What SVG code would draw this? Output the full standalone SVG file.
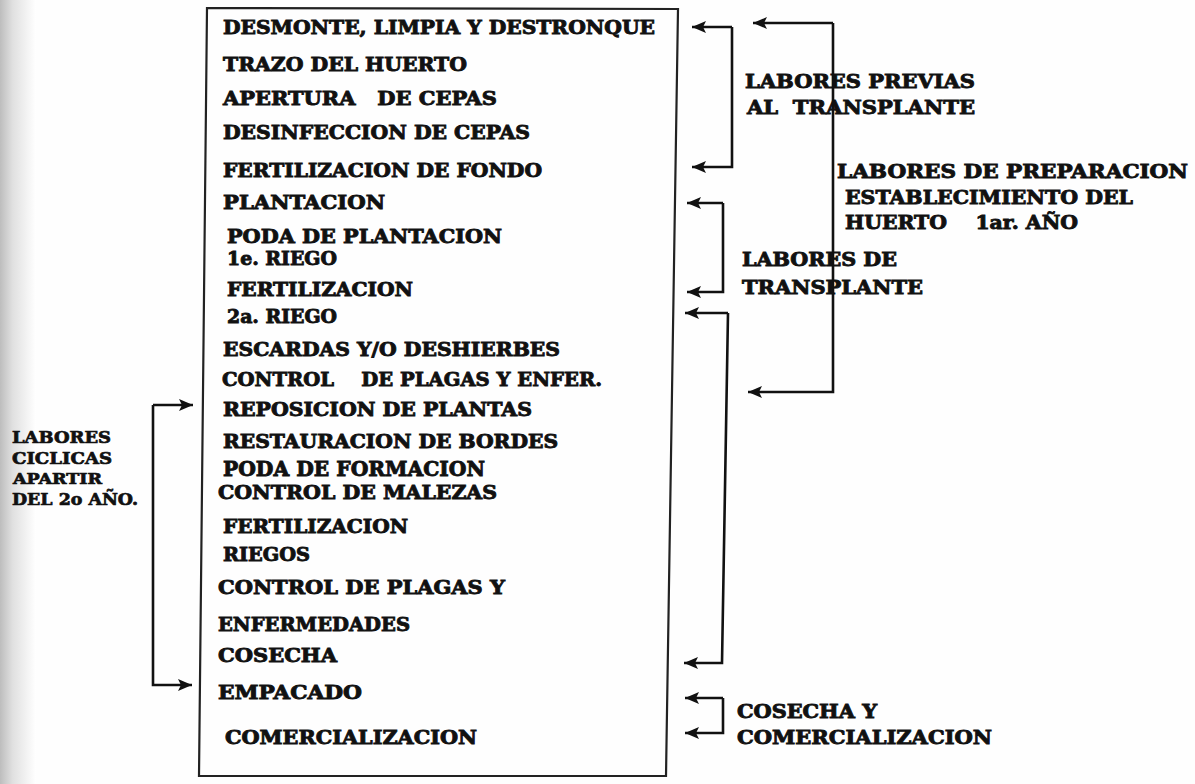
<svg xmlns="http://www.w3.org/2000/svg" width="1195" height="784" viewBox="0 0 1195 784">
<defs>
<linearGradient id="shade" x1="0" y1="0" x2="1" y2="0">
<stop offset="0" stop-color="#bdbdbd"/>
<stop offset="0.35" stop-color="#e0e0e0"/>
<stop offset="1" stop-color="#ffffff"/>
</linearGradient>
<marker id="ah" viewBox="0 0 14 12" refX="14" refY="6" markerWidth="15" markerHeight="12" markerUnits="userSpaceOnUse" orient="auto">
<path d="M0,0 L14,6 L0,12 L3,6 Z" fill="#111"/>
</marker>
<style>
.t{font-family:"DejaVu Serif","Liberation Serif",serif;font-weight:bold;font-size:19px;fill:#111;stroke:#111;stroke-width:0.9;white-space:pre}
.s{font-size:16px;stroke-width:0.7}
.c{fill:none;stroke:#111;stroke-width:2.6}
.box{fill:none;stroke:#222;stroke-width:2.2}
</style>
</defs>
<rect x="0" y="0" width="1195" height="784" fill="#fefefe"/>
<rect x="0" y="0" width="36" height="784" fill="url(#shade)"/>

<g id="box">
<path class="box" d="M207,8 L678,9 L666,776 L199,776 Z"/>
</g>

<g id="box-items">
<text class="t" x="223" y="34" textLength="432" lengthAdjust="spacingAndGlyphs">DESMONTE, LIMPIA Y DESTRONQUE</text>
<text class="t" x="223" y="71" textLength="244" lengthAdjust="spacingAndGlyphs">TRAZO DEL HUERTO</text>
<text class="t" x="223" y="105" textLength="274" lengthAdjust="spacingAndGlyphs">APERTURA   DE CEPAS</text>
<text class="t" x="223" y="139" textLength="307" lengthAdjust="spacingAndGlyphs">DESINFECCION DE CEPAS</text>
<text class="t" x="223" y="177" textLength="319" lengthAdjust="spacingAndGlyphs">FERTILIZACION DE FONDO</text>
<text class="t" x="223" y="209" textLength="162" lengthAdjust="spacingAndGlyphs">PLANTACION</text>
<text class="t" x="227" y="243" textLength="275" lengthAdjust="spacingAndGlyphs">PODA DE PLANTACION</text>
<text class="t" x="227" y="265" textLength="110" lengthAdjust="spacingAndGlyphs">1e. RIEGO</text>
<text class="t" x="227" y="296" textLength="186" lengthAdjust="spacingAndGlyphs">FERTILIZACION</text>
<text class="t" x="227" y="323" textLength="110" lengthAdjust="spacingAndGlyphs">2a. RIEGO</text>
<text class="t" x="223" y="356" textLength="337" lengthAdjust="spacingAndGlyphs">ESCARDAS Y/O DESHIERBES</text>
<text class="t" x="222" y="386" textLength="380" lengthAdjust="spacingAndGlyphs">CONTROL    DE PLAGAS Y ENFER.</text>
<text class="t" x="223" y="416" textLength="309" lengthAdjust="spacingAndGlyphs">REPOSICION DE PLANTAS</text>
<text class="t" x="223" y="448" textLength="335" lengthAdjust="spacingAndGlyphs">RESTAURACION DE BORDES</text>
<text class="t" x="223" y="476" style="font-size:20.5px" textLength="262" lengthAdjust="spacingAndGlyphs">PODA DE FORMACION</text>
<text class="t" x="218" y="499" textLength="279" lengthAdjust="spacingAndGlyphs">CONTROL DE MALEZAS</text>
<text class="t" x="223" y="533" textLength="185" lengthAdjust="spacingAndGlyphs">FERTILIZACION</text>
<text class="t" x="223" y="561" textLength="87" lengthAdjust="spacingAndGlyphs">RIEGOS</text>
<text class="t" x="218" y="594" textLength="287" lengthAdjust="spacingAndGlyphs">CONTROL DE PLAGAS Y</text>
<text class="t" x="218" y="631" textLength="192" lengthAdjust="spacingAndGlyphs">ENFERMEDADES</text>
<text class="t" x="218" y="662" textLength="119" lengthAdjust="spacingAndGlyphs">COSECHA</text>
<text class="t" x="218" y="699" textLength="144" lengthAdjust="spacingAndGlyphs">EMPACADO</text>
<text class="t" x="225" y="744" textLength="252" lengthAdjust="spacingAndGlyphs">COMERCIALIZACION</text>
</g>

<g id="connectors">
<path class="c" d="M732,27 L692,27" marker-end="url(#ah)"/>
<path class="c" d="M732,27 L732,167 L692,167" marker-end="url(#ah)"/>
<path class="c" d="M833,23 L753,23" marker-end="url(#ah)"/>
<path class="c" d="M833,23 L833,392 L748,392" marker-end="url(#ah)"/>
<path class="c" d="M723,203 L687,203" marker-end="url(#ah)"/>
<path class="c" d="M723,203 L723,292 L687,292" marker-end="url(#ah)"/>
<path class="c" d="M728,313 L685,313" marker-end="url(#ah)"/>
<path class="c" d="M728,313 L722,663 L684,663" marker-end="url(#ah)"/>
<path class="c" d="M723,698 L685,698" marker-end="url(#ah)"/>
<path class="c" d="M723,698 L723,733 L685,733" marker-end="url(#ah)"/>
<path class="c" d="M153,405 L193,405" marker-end="url(#ah)"/>
<path class="c" d="M153,405 L153,685 L192,685" marker-end="url(#ah)"/>
</g>

<g id="label-previas">
<text class="t" x="745" y="88" textLength="230" lengthAdjust="spacingAndGlyphs">LABORES PREVIAS</text>
<text class="t" x="747" y="114" textLength="228" lengthAdjust="spacingAndGlyphs">AL  TRANSPLANTE</text>
</g>
<g id="label-preparacion">
<text class="t" x="837" y="178" textLength="351" lengthAdjust="spacingAndGlyphs">LABORES DE PREPARACION</text>
<text class="t" x="845" y="204" textLength="288" lengthAdjust="spacingAndGlyphs">ESTABLECIMIENTO DEL</text>
<text class="t" x="845" y="229" textLength="233" lengthAdjust="spacingAndGlyphs">HUERTO    1ar. AÑO</text>
</g>
<g id="label-transplante">
<text class="t" x="742" y="266" textLength="155" lengthAdjust="spacingAndGlyphs">LABORES DE</text>
<text class="t" x="742" y="294" textLength="181" lengthAdjust="spacingAndGlyphs">TRANSPLANTE</text>
</g>
<g id="label-cosecha">
<text class="t" x="737" y="718" textLength="140" lengthAdjust="spacingAndGlyphs">COSECHA Y</text>
<text class="t" x="737" y="744" textLength="255" lengthAdjust="spacingAndGlyphs">COMERCIALIZACION</text>
</g>
<g id="label-ciclicas">
<text class="t s" x="12" y="443" textLength="99" lengthAdjust="spacingAndGlyphs">LABORES</text>
<text class="t s" x="12" y="464" textLength="100" lengthAdjust="spacingAndGlyphs">CICLICAS</text>
<text class="t s" x="13" y="484" style="font-size:14px" textLength="89" lengthAdjust="spacingAndGlyphs">APARTIR</text>
<text class="t s" x="12" y="505" textLength="126" lengthAdjust="spacingAndGlyphs">DEL 2o AÑO.</text>
</g>
</svg>
